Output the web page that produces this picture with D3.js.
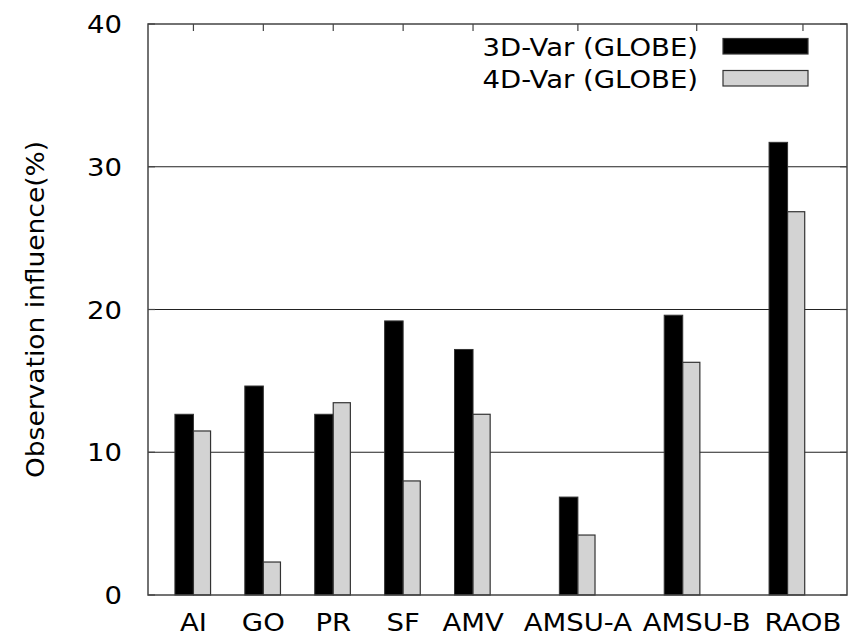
<!DOCTYPE html>
<html>
<head>
<meta charset="utf-8">
<script src="https://cdn.jsdelivr.net/npm/d3@7"></script>
<style>
  body { margin: 0; background: #fff; }
  text { font-family: "DejaVu Sans", sans-serif; fill: #000; }
</style>
</head>
<body>
<svg id="chart" width="849" height="637"></svg>
<script>
// data
categories = ["AI", "GO", "PR", "SF", "AMV", "AMSU-A", "AMSU-B", "RAOB"];
barPos   = [0, 1, 2, 3, 4, 5.5, 7, 8.5];        // where the bar pairs sit
labelPos = [0, 1, 2, 3, 4, 5.5, 7.2, 8.72];     // where the xtic labels sit
var3d = [12.66, 14.64, 12.66, 19.2, 17.2, 6.86, 19.6, 31.71];
var4d = [11.49, 2.31, 13.47, 7.99, 12.66, 4.2, 16.3, 26.85];
yTicks = [0, 10, 20, 30, 40];
gridTicks = [10, 20, 30];
seriesNames = ["3D-Var (GLOBE)", "4D-Var (GLOBE)"];
seriesColors = ["#000000", "#d3d3d3"];

let svg = d3.select("#chart");
let plot = {left: 148, right: 847, top: 24, bottom: 595};
let fontSize = 25;
let sx = 1.1;   // the reference font runs a bit wide

let x = d3.scaleLinear().domain([-0.65, 9.35]).range([plot.left, plot.right]);
let y = d3.scaleLinear().domain([0, 40]).range([plot.bottom, plot.top]);

let wBlack = 0.265, wGray = 0.245;

// grid lines
svg.selectAll(".grid")
    .data(gridTicks)
    .enter().append("line")
    .attr("class", "grid")
    .attr("x1", plot.left).attr("x2", plot.right)
    .attr("y1", d => y(d)).attr("y2", d => y(d))
    .style("stroke", "#222")
    .style("stroke-width", 1.2);

// bars
let cats = categories.map((c, i) => ({c: c, p: barPos[i], a: var3d[i], b: var4d[i]}));

svg.selectAll(".bar3d")
    .data(cats)
    .enter().append("rect")
    .attr("class", "bar3d")
    .attr("x", d => x(d.p - wBlack))
    .attr("width", d => x(d.p) - x(d.p - wBlack))
    .attr("y", d => y(d.a))
    .attr("height", d => y(0) - y(d.a))
    .style("fill", seriesColors[0])
    .style("stroke", "#333")
    .style("stroke-width", 1);

svg.selectAll(".bar4d")
    .data(cats)
    .enter().append("rect")
    .attr("class", "bar4d")
    .attr("x", d => x(d.p))
    .attr("width", d => x(d.p + wGray) - x(d.p))
    .attr("y", d => y(d.b))
    .attr("height", d => y(0) - y(d.b))
    .style("fill", seriesColors[1])
    .style("stroke", "#333")
    .style("stroke-width", 1.2);

// frame
svg.append("rect")
    .attr("x", plot.left).attr("y", plot.top)
    .attr("width", plot.right - plot.left)
    .attr("height", plot.bottom - plot.top)
    .style("fill", "none")
    .style("stroke", "#444")
    .style("stroke-width", 1.5);

// inward ticks, y on both sides
let tickLen = 7;
svg.selectAll(".ytickL")
    .data(yTicks)
    .enter().append("line")
    .attr("x1", plot.left).attr("x2", plot.left + tickLen)
    .attr("y1", d => y(d)).attr("y2", d => y(d))
    .style("stroke", "#444").style("stroke-width", 1.2);
svg.selectAll(".ytickR")
    .data(yTicks)
    .enter().append("line")
    .attr("x1", plot.right).attr("x2", plot.right - tickLen)
    .attr("y1", d => y(d)).attr("y2", d => y(d))
    .style("stroke", "#444").style("stroke-width", 1.2);
svg.selectAll(".xtickT")
    .data(labelPos)
    .enter().append("line")
    .attr("x1", d => x(d)).attr("x2", d => x(d))
    .attr("y1", plot.top).attr("y2", plot.top + tickLen)
    .style("stroke", "#444").style("stroke-width", 1.2);

// y tick labels
svg.selectAll(".ylab")
    .data(yTicks)
    .enter().append("text")
    .attr("transform", d => "translate(122," + y(d) + ") scale(" + sx + ",1)")
    .attr("dy", "0.36em")
    .attr("text-anchor", "end")
    .style("font-size", fontSize + "px")
    .text(d => d);

// x category labels
svg.selectAll(".xlab")
    .data(categories)
    .enter().append("text")
    .attr("transform", (d, i) => "translate(" + x(labelPos[i]) + ",631) scale(" + sx + ",1)")
    .attr("text-anchor", "middle")
    .style("font-size", fontSize + "px")
    .text(d => d);

// y axis title
svg.append("text")
    .attr("transform", "translate(44," + ((plot.top + plot.bottom) / 2) + ") rotate(-90) scale(1.06,1)")
    .attr("text-anchor", "middle")
    .style("font-size", fontSize + "px")
    .text("Observation influence(%)");

// legend
let legend = svg.selectAll(".legend")
    .data(seriesNames)
    .enter().append("g")
    .attr("class", "legend")
    .attr("transform", (d, i) => "translate(0," + (46.5 + i * 32) + ")");

legend.append("text")
    .attr("transform", "translate(698,0) scale(" + sx + ",1)")
    .attr("dy", "0.36em")
    .attr("text-anchor", "end")
    .style("font-size", fontSize + "px")
    .text(d => d);

legend.append("rect")
    .attr("x", 723).attr("y", -8)
    .attr("width", 85).attr("height", 15.5)
    .style("fill", (d, i) => seriesColors[i])
    .style("stroke", "#333")
    .style("stroke-width", 1.2);
</script>
</body>
</html>
